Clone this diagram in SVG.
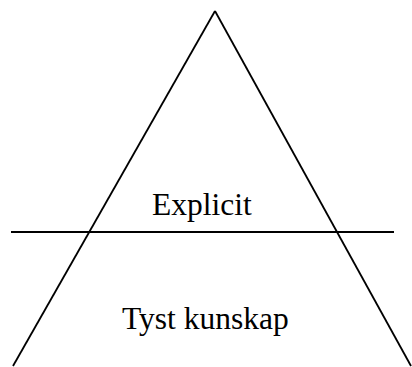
<svg xmlns="http://www.w3.org/2000/svg" width="412" height="367" viewBox="0 0 412 367">
<style>
.ln{stroke:#000;stroke-width:1.8;fill:none}
.lbl{font-family:"Liberation Serif","Times New Roman",serif;font-size:31.5px;fill:#000}
</style>
<rect width="412" height="367" fill="#fff"/>
<g id="connectors">
<line class="ln" x1="215" y1="11" x2="13" y2="366"/>
<line class="ln" x1="215" y1="11" x2="411" y2="366"/>
<line class="ln" x1="11" y1="232" x2="394" y2="232"/>
</g>
<g id="explicit"><text class="lbl" x="152" y="215">Explicit</text></g>
<g id="tyst"><text class="lbl" x="122" y="329">Tyst kunskap</text></g>
</svg>
